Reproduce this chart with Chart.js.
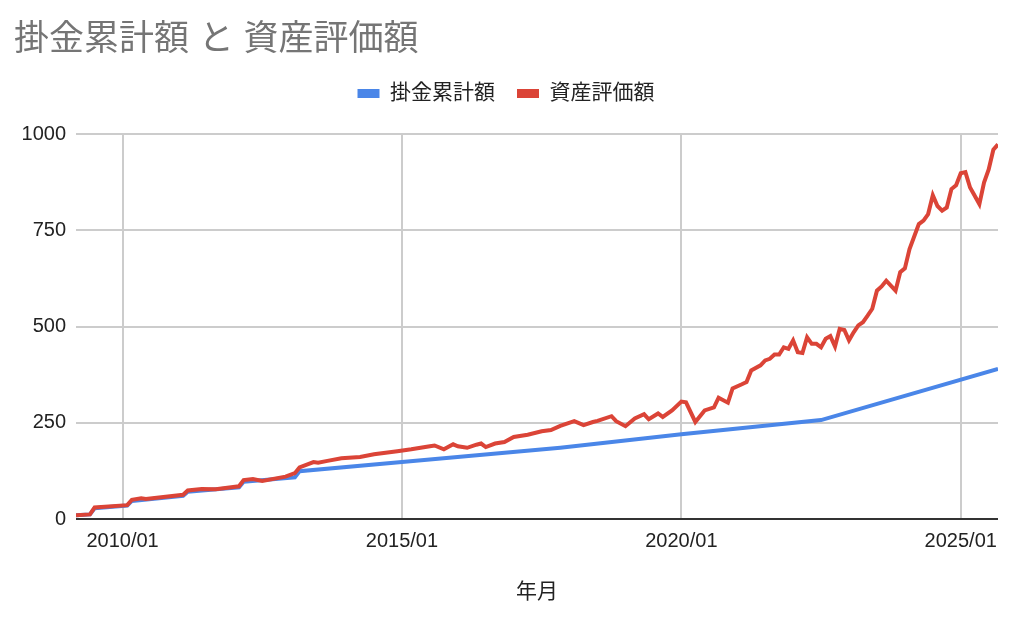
<!DOCTYPE html>
<html lang="ja">
<head>
<meta charset="utf-8">
<title>掛金累計額 と 資産評価額</title>
<script src="https://cdn.jsdelivr.net/npm/chart.js@4.4.1/dist/chart.umd.min.js"></script>
<style>
  html, body { margin: 0; padding: 0; background: #fff; }
  #wrap { width: 1024px; height: 630px; position: relative; }
</style>
</head>
<body>
<div id="wrap"><canvas id="grafico"></canvas></div>
<script>
// === DADOS ===
const kakekinMonths = ["2009/03", "2009/06", "2009/07", "2010/02", "2010/03", "2011/02", "2011/03",
  "2012/02", "2012/03", "2013/02", "2013/03", "2015/01", "2017/11", "2020/01", "2022/07", "2025/09"];
const kakekinValues = [10, 12, 28, 35, 47, 60, 71, 82, 97, 108, 124, 148, 185, 220, 257, 390];

const hyokaMonths = [
  "2009/03", "2009/06", "2009/07", "2010/02", "2010/03", "2010/05", "2010/06", "2011/02", "2011/03", "2011/06",
  "2011/09", "2012/02", "2012/03", "2012/05", "2012/07", "2012/12", "2013/02", "2013/03", "2013/06", "2013/07",
  "2013/09", "2013/12", "2014/04", "2014/07", "2014/12", "2015/03", "2015/07", "2015/08", "2015/10", "2015/12",
  "2016/01", "2016/03", "2016/05", "2016/06", "2016/07", "2016/09", "2016/11", "2017/01", "2017/04", "2017/07",
  "2017/09", "2017/11", "2018/02", "2018/04", "2018/06", "2018/07", "2018/10", "2018/11", "2019/01", "2019/03",
  "2019/05", "2019/06", "2019/08", "2019/09", "2019/11", "2020/01", "2020/02", "2020/04", "2020/06", "2020/08",
  "2020/09", "2020/11", "2020/12", "2021/02", "2021/03", "2021/04", "2021/06", "2021/07", "2021/08", "2021/09",
  "2021/10", "2021/11", "2021/12", "2022/01", "2022/02", "2022/03", "2022/04", "2022/05", "2022/06", "2022/07",
  "2022/08", "2022/09", "2022/10", "2022/11", "2022/12", "2023/01", "2023/02", "2023/03", "2023/04", "2023/05",
  "2023/06", "2023/07", "2023/08", "2023/09", "2023/11", "2023/12", "2024/01", "2024/02", "2024/04", "2024/05",
  "2024/06", "2024/07", "2024/08", "2024/09", "2024/10", "2024/11", "2024/12", "2025/01", "2025/02", "2025/03",
  "2025/05", "2025/06", "2025/07", "2025/08", "2025/09"];
const hyokaValues = [
  10, 12, 30, 36, 50, 54, 52, 63, 74, 78,
  77, 85, 101, 104, 99, 110, 119, 134, 148, 146,
  151, 158, 161, 168, 176, 181, 189, 191, 181, 194,
  189, 185, 193, 196, 187, 196, 200, 213, 219, 228,
  231, 242, 254, 244, 252, 255, 267, 254, 241, 261,
  272, 259, 274, 265, 282, 305, 303, 252, 282, 290,
  315, 302, 339, 350, 356, 386, 399, 412, 416, 427,
  427, 446, 442, 464, 433, 431, 472, 455, 455, 446,
  468, 475, 448, 494, 491, 464, 485, 503, 511, 528,
  546, 593, 604, 619, 593, 641, 651, 701, 766, 775,
  792, 841, 813, 801, 809, 857, 867, 898, 901, 861,
  818, 874, 908, 959, 973];

const xTickLabels = ["2010/01", "2015/01", "2020/01", "2025/01"];
const yTickValues = [0, 250, 500, 750, 1000];
const xRange = ["2009/03", "2025/09"];

// === "YYYY/MM" <-> índice de mês ===
function toMonth(s) {
  const [y, m] = s.split("/").map(Number);
  return (y - 2010) * 12 + (m - 1);
}
function fromMonth(v) {
  const y = 2010 + Math.floor(v / 12);
  const m = ((v % 12) + 12) % 12 + 1;
  return y + "/" + String(m).padStart(2, "0");
}

const pontos = (meses, valores) => meses.map((m, i) => ({ x: toMonth(m), y: valores[i] }));

const fonte = "'Liberation Sans', 'Noto Sans CJK JP', sans-serif";
Chart.defaults.font.family = fonte;

// espaço extra abaixo da legenda
const legendaEspaco = {
  id: "legendaEspaco",
  beforeUpdate(chart) {
    const leg = chart.legend;
    if (leg && !leg._esp) {
      const fit = leg.fit;
      leg.fit = function () { fit.call(this); this.height += 20; };
      leg._esp = true;
    }
  },
};

new Chart(document.getElementById("grafico"), {
  type: "line",
  data: {
    datasets: [
      {
        label: "掛金累計額",
        data: pontos(kakekinMonths, kakekinValues),
        borderColor: "#4a86e8",
        backgroundColor: "#4a86e8",
        borderWidth: 4,
        pointRadius: 0,
        tension: 0,
        order: 1,
      },
      {
        label: "資産評価額",
        data: pontos(hyokaMonths, hyokaValues),
        borderColor: "#db4437",
        backgroundColor: "#db4437",
        borderWidth: 4,
        pointRadius: 0,
        tension: 0,
        order: 0,
      },
    ],
  },
  options: {
    responsive: true,
    maintainAspectRatio: false,
    animation: false,
    layout: { padding: { left: 14, right: 26, top: 0, bottom: 0 } },
    plugins: {
      tooltip: { enabled: false },
      title: {
        display: true,
        text: "掛金累計額 と 資産評価額",
        align: "start",
        color: "#757575",
        font: { size: 35, weight: "normal" },
        padding: { top: 19, bottom: 0 },
      },
      legend: {
        position: "top",
        align: "center",
        labels: {
          color: "#222",
          font: { size: 21 },
          boxWidth: 22,
          boxHeight: 9,
          padding: 22,
          sort: (a, b) => a.datasetIndex - b.datasetIndex,
          generateLabels(chart) {
            return Chart.defaults.plugins.legend.labels.generateLabels(chart).map((l) => {
              l.lineWidth = 0;
              return l;
            });
          },
        },
      },
    },
    scales: {
      x: {
        type: "linear",
        min: toMonth(xRange[0]),
        max: toMonth(xRange[1]),
        afterBuildTicks(scale) {
          scale.ticks = xTickLabels.map((s) => ({ value: toMonth(s) }));
        },
        afterFit(scale) { scale.height = 111; },
        ticks: {
          color: "#222",
          font: { size: 20 },
          padding: 10,
          maxRotation: 0,
          callback: (v) => fromMonth(v),
        },
        grid: { color: "#cccccc", lineWidth: 2, drawTicks: false },
        border: { display: false },
        title: {
          display: true,
          text: "年月",
          color: "#222",
          font: { size: 21 },
          padding: { top: 0, bottom: 25 },
        },
      },
      y: {
        min: yTickValues[0],
        max: yTickValues[yTickValues.length - 1],
        afterBuildTicks(scale) {
          scale.ticks = yTickValues.map((v) => ({ value: v }));
        },
        afterFit(scale) { scale.width = 62; },
        ticks: { color: "#222", font: { size: 20 }, padding: 10, callback: (v) => String(v) },
        grid: {
          color: (ctx) => (ctx.tick && ctx.tick.value === 0 ? "#333333" : "#cccccc"),
          lineWidth: 2,
          drawTicks: false,
        },
        border: { display: false },
      },
    },
  },
  plugins: [legendaEspaco],
});
</script>
</body>
</html>
